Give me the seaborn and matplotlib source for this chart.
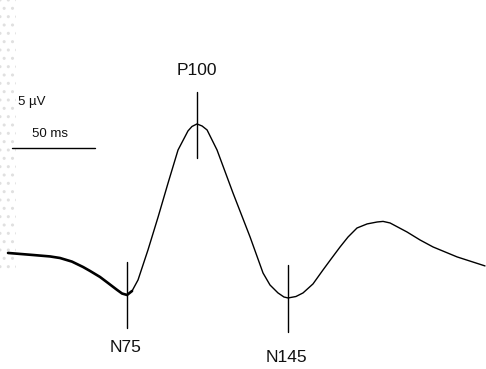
import numpy as np
import pandas as pd
import matplotlib
matplotlib.use("Agg")
import matplotlib.pyplot as plt
import seaborn as sns

# VEP waveform, time in ms, amplitude in µV
time_ms = [-2.4, 12.7, 22.9, 28.9, 36.1, 42.8, 47.0, 53.0, 57.8, 63.3, 66.3, 69.3,
           72.3, 75.9, 78.9, 81.9, 88.0, 94.0, 100.0, 106.0, 108.4, 111.4,
           114.5, 117.5, 123.5, 133.1, 143.4, 151.2, 155.4, 160.2, 163.8, 166.3,
           171.0, 175.3, 181.3, 187.3, 192.2, 197.6, 202.4, 207.8, 213.9, 219.9,
           223.5, 227.7, 237.9, 245.8, 253.6, 268.1, 284.9]
amp_uv = [0.00, -0.17, -0.29, -0.42, -0.72, -1.17, -1.50, -2.00, -2.50, -3.08, -3.38, -3.50,
          -3.17, -2.25, -1.00, 0.25, 3.00, 5.83, 8.58, 10.17, 10.54, 10.75,
          10.58, 10.25, 8.58, 5.00, 1.33, -1.67, -2.67, -3.33, -3.67, -3.75,
          -3.63, -3.33, -2.58, -1.42, -0.50, 0.50, 1.33, 2.08, 2.42, 2.58,
          2.63, 2.50, 1.75, 1.08, 0.50, -0.33, -1.08]

# labelled components
comp_names = ["N75", "P100", "N145"]
comp_latency = [69.3, 111.4, 166.3]
comp_tick_lo = [-6.25, 7.92, -6.58]
comp_tick_hi = [-0.75, 13.42, -1.0]
comp_label_y = [-7.9, 15.2, -8.75]
comp_label_x = [68.1, 111.4, 165.1]

# calibration bar
bar_ms = [0, 50]
bar_level = 8.75
volt_label = "5 µV"
time_label = "50 ms"

sns.set_theme(style="white")
plt.rcParams["font.family"] = ["Liberation Sans", "DejaVu Sans"]

fig = plt.figure(figsize=(4.86, 3.69), dpi=100)
ax = fig.add_axes([0, 0, 1, 1])

df = pd.DataFrame({"t": time_ms, "a": amp_uv})
sns.lineplot(data=df.iloc[:13], x="t", y="a", ax=ax, color="black", linewidth=1.9,
             sort=False, solid_joinstyle="round", solid_capstyle="round")
sns.lineplot(data=df.iloc[12:], x="t", y="a", ax=ax, color="black", linewidth=1.0,
             sort=False, solid_joinstyle="round")

for name, lat, lo, hi, lx, ly in zip(comp_names, comp_latency, comp_tick_lo,
                                     comp_tick_hi, comp_label_x, comp_label_y):
    ax.plot([lat, lat], [lo, hi], color="black", linewidth=1.0)
    ax.text(lx, ly, name, ha="center", va="center", fontsize=12.5, color="#111111")

# scan speckle along left edge
ax.axvspan(-7.3, 2.5, ymin=0.26, ymax=1.0, facecolor="none", edgecolor="#e0e0e0",
           hatch="..", linewidth=0)

ax.plot(bar_ms, [bar_level, bar_level], color="black", linewidth=1.0)
ax.text(3.6, 12.6, volt_label, ha="left", va="center", fontsize=9.5, color="#111111")
ax.text(12.0, 9.9, time_label, ha="left", va="center", fontsize=9.5, color="#111111")

ax.set_xlim(-7.23, 285.5)
ax.set_ylim(-9.67, 21.08)
ax.set_axis_off()

fig.savefig("out.png", dpi=100)
